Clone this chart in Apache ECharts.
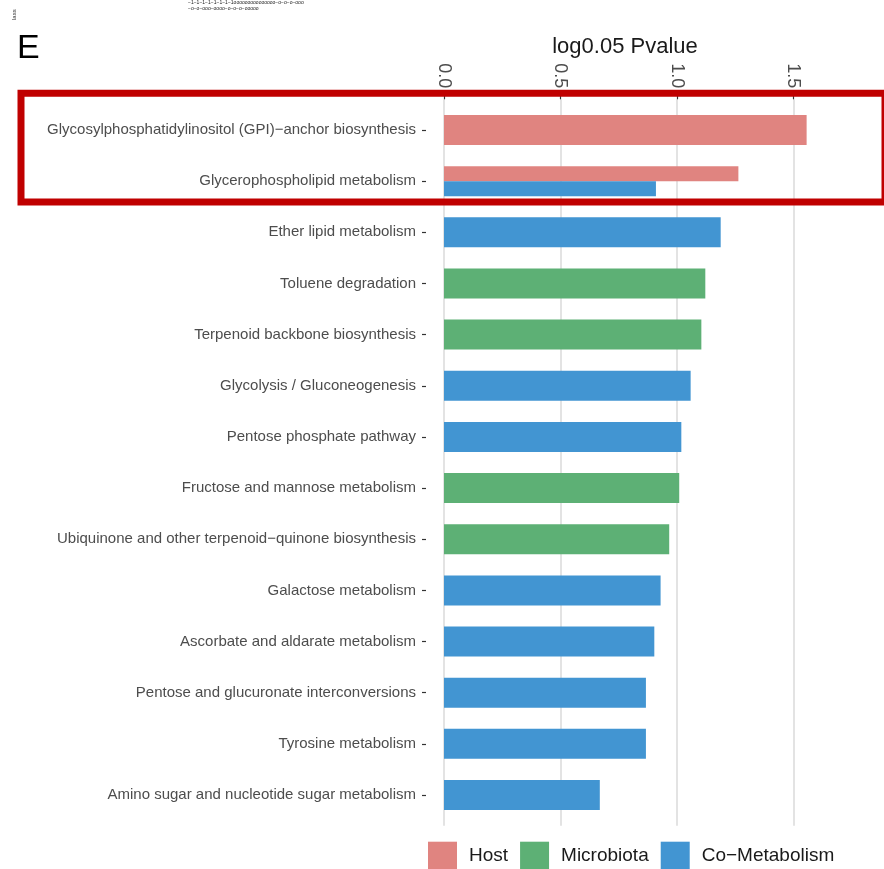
<!DOCTYPE html>
<html>
<head>
<meta charset="utf-8">
<script src="https://cdn.jsdelivr.net/npm/echarts@6/dist/echarts.min.js"></script>
<style>
  html, body { margin: 0; padding: 0; background: #fff; }
  #chart { width: 884px; height: 869px; }
</style>
</head>
<body>
<div id="chart"></div>
<script>
// KEGG pathways, top to bottom
const categories = [
  'Glycosylphosphatidylinositol (GPI)−anchor biosynthesis',
  'Glycerophospholipid metabolism',
  'Ether lipid metabolism',
  'Toluene degradation',
  'Terpenoid backbone biosynthesis',
  'Glycolysis / Gluconeogenesis',
  'Pentose phosphate pathway',
  'Fructose and mannose metabolism',
  'Ubiquinone and other terpenoid−quinone biosynthesis',
  'Galactose metabolism',
  'Ascorbate and aldarate metabolism',
  'Pentose and glucuronate interconversions',
  'Tyrosine metabolism',
  'Amino sugar and nucleotide sugar metabolism'
];

// log0.05 Pvalue per source (null = pathway not enriched in that source)
const hostValues = [1.557, 1.264, null, null, null, null, null, null, null, null, null, null, null, null];
const microbiotaValues = [null, null, null, 1.122, 1.105, null, null, 1.010, 0.967, null, null, null, null, null];
const coMetabolismValues = [null, 0.910, 1.188, null, null, 1.059, 1.019, null, null, 0.930, 0.903, 0.867, 0.867, 0.669];

const xTicks = [0, 0.5, 1.0, 1.5];

const groupNames = ['Host', 'Microbiota', 'Co−Metabolism'];
const groupColors = ['#E08480', '#5DB075', '#4295D2'];

// rows carrying more than one source are drawn side by side
const valueSets = [hostValues, microbiotaValues, coMetabolismValues];
const sharedRow = categories.map((_, i) => valueSets.filter(v => v[i] != null).length > 1);

const toData = (vals, onShared) => vals.map((v, i) => (v != null && sharedRow[i] === onShared) ? v : '-');

const series = [];
valueSets.forEach((vals, k) => {
  series.push({
    name: groupNames[k], type: 'bar', xAxisIndex: 0, yAxisIndex: 0,
    data: toData(vals, false), barWidth: 30, barGap: '-100%',
    itemStyle: { color: groupColors[k] }, silent: true
  });
});
valueSets.forEach((vals, k) => {
  if (!vals.some((v, i) => v != null && sharedRow[i])) return;
  series.push({
    name: groupNames[k], type: 'bar', xAxisIndex: 0, yAxisIndex: 1,
    data: toData(vals, true), barWidth: 15, barGap: '0%',
    itemStyle: { color: groupColors[k] }, silent: true
  });
});

const FONT = '"Liberation Sans", Arial, Helvetica, sans-serif';

// scale: 232.9 px per unit; zero sits at x = 444, panel edge 18 px further left
const PX_PER_UNIT = 232.9;
const ZERO_X = 444;
const PANEL_LEFT = 426;
const W = 884;
const xMaxVisible = (W - ZERO_X) / PX_PER_UNIT;
const xMinPanel = -(ZERO_X - PANEL_LEFT) / PX_PER_UNIT;

const chart = echarts.init(document.getElementById('chart'), null, { renderer: 'canvas' });
chart.setOption({
  animation: false,
  backgroundColor: '#ffffff',
  grid: [
    { left: PANEL_LEFT, right: 0, top: 104.4, bottom: 48.4, containLabel: false },
    { left: ZERO_X, right: 0, top: 99.3, bottom: 43.3, containLabel: false }
  ],
  xAxis: [
    { type: 'value', gridIndex: 0, min: xMinPanel, max: xMaxVisible, show: false },
    {
      type: 'value', gridIndex: 1, position: 'top', min: 0, max: xMaxVisible, interval: 0.5,
      axisLine: { show: false, onZero: false },
      axisTick: { show: true, length: 4, lineStyle: { color: '#333333', width: 1.2 } },
      axisLabel: {
        rotate: 90, margin: 11, fontSize: 18, color: '#4d4d4d', fontFamily: FONT,
        showMaxLabel: false,
        formatter: v => xTicks.includes(v) ? v.toFixed(1) : ''
      },
      splitLine: { show: true, showMaxLine: false, lineStyle: { color: '#dcdcdc', width: 1.6 } }
    }
  ],
  yAxis: [
    {
      type: 'category', gridIndex: 0, data: categories, inverse: true,
      axisLine: { show: false, onZero: false },
      axisTick: { show: true, alignWithLabel: true, length: 4, lineStyle: { color: '#333333', width: 1.2 } },
      axisLabel: { margin: 10, fontSize: 15, color: '#4d4d4d', fontFamily: FONT },
      splitLine: { show: false }
    },
    { type: 'category', gridIndex: 0, data: categories, inverse: true, show: false },
    { type: 'value', gridIndex: 1, min: 0, max: 1, show: false }
  ],
  legend: {
    data: groupNames,
    left: 428, top: 841.7, padding: 0,
    icon: 'rect', itemWidth: 29, itemHeight: 29, itemGap: 12,
    selectedMode: false,
    textStyle: { fontSize: 19, color: '#1a1a1a', fontFamily: FONT, padding: [0, 0, 0, 7] }
  },
  series: series,
  graphic: [
    { type: 'text', left: 17, top: 32, style: { text: 'E', font: '34px ' + FONT, fill: '#000000' } },
    { type: 'text', x: 625, y: 47, style: { text: 'log0.05 Pvalue', font: '22px ' + FONT, fill: '#1a1a1a', textAlign: 'center', textVerticalAlign: 'middle' } },
    { type: 'text', x: 11, y: 20, rotation: Math.PI / 2, style: { text: 'lass', font: '6px ' + FONT, fill: '#333' } },
    { type: 'text', x: 188, y: 0, style: { text: '−1−1−1−1−1−1−1−1ooooooooooooooo−o−o−o−ooo', font: '5px ' + FONT, fill: '#222' } },
    { type: 'text', x: 188, y: 6, style: { text: '−o−o−ooo−oooo−o−o−o−ooooo', font: '5px ' + FONT, fill: '#222' } },
    { type: 'rect', shape: { x: 21, y: 93.3, width: 864, height: 108.7 }, style: { fill: 'none', stroke: '#C00000', lineWidth: 7 }, z: 100 }
  ]
});
</script>
</body>
</html>
